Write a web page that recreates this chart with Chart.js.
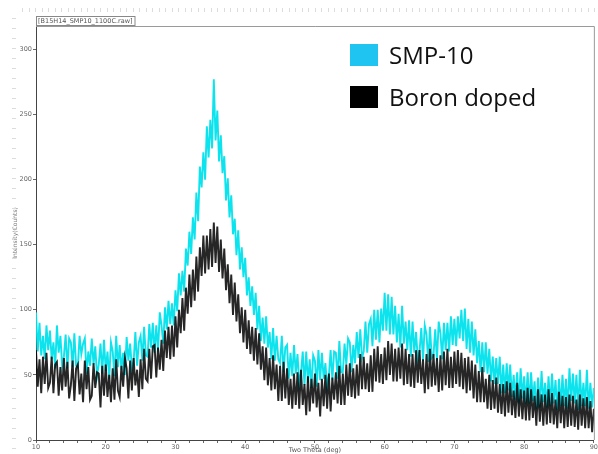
<!DOCTYPE html>
<html>
<head>
<meta charset="utf-8">
<script src="https://cdn.jsdelivr.net/npm/chart.js@4.4.0/dist/chart.umd.min.js"></script>
<style>
  html, body { margin: 0; padding: 0; background: #fff; }
  #xrd { display: block; }
</style>
</head>
<body>
<canvas id="xrd" width="598" height="454"></canvas>
<script>
// scan grid: 10..90 deg two theta, 0.25 deg step
var thetaStart = 10;
var thetaStep = 0.25;

// SMP-10 counts (4 points per degree)
var smp10 = [
    98,68,90,65, 80,62,88,69, 84,62,75,55, 88,67,80,57, 64,81,55,78,
    75,56,82,57, 56,80,66,74, 78,51,68,57, 78,58,72,49, 58,74,51,77,
    53,68,47,75, 68,49,80,56, 73,54,67,50, 79,61,74,55, 60,83,57,75,
    80,61,87,65, 64,89,71,90, 67,88,68,98, 88,74,102,85, 107,89,105,88,
    115,99,128,111, 130,114,147,134, 160,143,171,154, 190,168,210,194, 221,200,241,217,
    246,224,277,230, 253,214,234,205, 218,184,201,171, 188,158,170,142, 161,131,148,125,
    140,111,125,103, 118,96,113,85, 103,76,94,74, 95,71,83,62, 86,61,80,62,
    59,80,52,71, 73,47,67,49, 73,51,66,43, 51,68,42,68, 44,62,40,65,
    61,41,69,46, 67,47,59,41, 49,69,46,68, 67,47,76,52, 52,74,58,78,
    75,52,73,59, 83,63,85,63, 68,91,67,89, 93,72,100,77, 100,75,101,84,
    113,84,112,81, 110,81,103,75, 97,71,103,74, 91,69,92,64, 91,67,83,62,
    68,86,61,88, 81,60,87,63, 65,85,61,91, 82,62,90,69, 90,68,95,73,
    93,72,95,78, 100,76,101,70, 93,67,91,65, 85,59,76,52, 75,52,75,51,
    70,45,64,43, 63,43,64,36, 58,36,59,38, 58,33,50,31, 52,28,55,32,
    49,28,52,28, 52,30,45,24, 48,25,53,29, 44,25,49,26, 51,28,46,23,
    47,26,50,26, 47,24,55,30, 51,28,50,23, 54,26,44,26, 54,24,44,25,
    40
];

// Boron doped counts
var boron = [
    69,41,62,36, 64,43,67,40, 44,64,36,58, 60,34,56,38, 63,41,60,32,
    42,61,30,55, 58,35,51,29, 61,39,56,31, 34,59,40,52, 51,25,57,34,
    58,33,50,29, 55,31,62,38, 33,57,41,63, 55,32,61,38, 63,42,54,33,
    62,39,70,47, 45,70,47,72, 73,48,71,54, 77,53,84,63, 87,62,88,64,
    95,71,100,82, 109,84,117,97, 127,102,131,107, 141,114,148,126, 157,128,157,131,
    162,133,167,136, 164,129,154,124, 147,115,135,105, 127,96,121,91, 112,82,102,75,
    100,70,92,66, 87,61,86,58, 82,54,72,46, 71,42,63,38, 65,39,58,30,
    57,30,60,32, 55,27,47,24, 51,27,52,24, 54,27,43,19, 49,22,47,28,
    51,25,44,18, 47,26,50,24, 51,22,48,31, 52,28,57,27, 51,27,58,34,
    59,33,55,32, 58,34,66,39, 64,39,59,37, 65,37,70,45, 72,44,66,43,
    71,46,76,50, 74,45,70,45, 71,47,74,42, 70,43,66,41, 66,40,69,44,
    69,43,62,36, 66,39,70,41, 66,42,63,37, 65,38,68,42, 70,40,64,40,
    68,43,69,41, 67,39,63,36, 64,38,61,32, 58,29,53,29, 56,29,47,24,
    50,23,46,24, 48,21,43,20, 43,18,45,21, 44,19,38,17, 44,18,39,16,
    38,15,40,15, 39,17,34,11, 39,14,35,11, 35,12,39,13, 36,12,31,9,
    37,13,34,9, 33,10,35,11, 34,10,31,8, 35,11,32,9, 33,9,30,6,
    24
];

var seriesNames = ['SMP-10', 'Boron doped'];
var yTicks = [0, 50, 100, 150, 200, 250, 300];
var xTickLabels = [10, 20, 30, 40, 50, 60, 70, 80, 90];
var fileName = '[B15H14_SMP10_1100C.raw]';

function toPoints(arr) {
    return arr.map(function (v, i) {
        return { x: thetaStart + i * thetaStep, y: v };
    });
}

// draws the frame, faint page rulers, file tag and the big legend
var decor = {
    id: 'decor',
    beforeDatasetsDraw: function (chart) {
        var c = chart.ctx, a = chart.chartArea;
        c.save();
        c.strokeStyle = '#9a9a9a';
        c.lineWidth = 1;
        c.beginPath();
        c.moveTo(a.left, a.top + 0.5);
        c.lineTo(a.right + 0.5, a.top + 0.5);
        c.lineTo(a.right + 0.5, a.bottom);
        c.stroke();

        // faint rulers along the top and left page edges
        c.strokeStyle = '#dcdcdc';
        c.beginPath();
        for (var x = 22; x < chart.width; x += 6.5) {
            c.moveTo(Math.round(x) + 0.5, 8);
            c.lineTo(Math.round(x) + 0.5, 12);
        }
        for (var y = 18; y < chart.height - 4; y += 10) {
            c.moveTo(12, Math.round(y) + 0.5);
            c.lineTo(16, Math.round(y) + 0.5);
        }
        c.stroke();
        c.restore();
    },
    afterDraw: function (chart) {
        var c = chart.ctx, a = chart.chartArea;
        c.save();
        // file name tag
        c.font = '6.5px "DejaVu Sans"';
        var w = c.measureText(fileName).width;
        c.strokeStyle = '#888';
        c.fillStyle = '#555';
        c.strokeRect(a.left + 0.5, a.top - 9.5, w + 4, 9);
        c.textBaseline = 'middle';
        c.fillText(fileName, a.left + 2, a.top - 4.5);

        // legend
        c.font = '24px "Open Sans"';
        c.textBaseline = 'alphabetic';
        chart.data.datasets.forEach(function (ds, i) {
            var y = 44 + i * 42;
            c.fillStyle = ds.backgroundColor;
            c.fillRect(350, y, 28, 22);
            c.fillStyle = '#111';
            c.fillText(ds.label, 389, y + 20);
        });
        c.restore();
    }
};

var ctx = document.getElementById('xrd').getContext('2d');

var xrdChart = new Chart(ctx, {
    type: 'line',
    data: {
        datasets: [{
            label: seriesNames[0],
            data: toPoints(smp10),
            borderColor: 'rgba(0, 226, 236, 0.95)',
            backgroundColor: 'rgb(32, 196, 240)',
            borderWidth: 1.9,
            pointRadius: 0,
            tension: 0,
            order: 1
        }, {
            label: seriesNames[1],
            data: toPoints(boron),
            borderColor: 'rgba(0, 0, 0, 0.85)',
            backgroundColor: '#000',
            borderWidth: 1.9,
            pointRadius: 0,
            tension: 0,
            order: 0
        }]
    },
    options: {
        responsive: false,
        animation: false,
        layout: { padding: { left: 0, right: 3, top: 26, bottom: 0 } },
        plugins: {
            legend: { display: false },
            tooltip: { enabled: false }
        },
        scales: {
            x: {
                type: 'linear',
                min: 10,
                max: 90,
                afterFit: function (s) { s.height = 14; },
                afterBuildTicks: function (s) {
                    var t = [];
                    for (var v = 10; v <= 90; v += 2) t.push({ value: v });
                    s.ticks = t;
                },
                ticks: {
                    autoSkip: false,
                    maxRotation: 0,
                    padding: 0,
                    color: '#666',
                    font: { size: 6.5, family: 'DejaVu Sans' },
                    callback: function (v) {
                        return xTickLabels.indexOf(v) >= 0 ? String(v) : '';
                    }
                },
                grid: { drawOnChartArea: false, tickLength: 3, color: '#666' },
                border: { color: '#444' },
                title: {
                    display: true,
                    text: 'Two Theta (deg)',
                    color: '#555',
                    font: { size: 6.5, family: 'DejaVu Sans' },
                    padding: 0
                }
            },
            y: {
                min: 0,
                max: 318,
                afterFit: function (s) { s.width = 36; },
                afterBuildTicks: function (s) {
                    s.ticks = yTicks.map(function (v) { return { value: v }; });
                },
                ticks: {
                    padding: 1,
                    color: '#666',
                    font: { size: 6.5, family: 'DejaVu Sans' }
                },
                grid: { drawOnChartArea: false, tickLength: 3, color: '#666' },
                border: { color: '#444' },
                title: {
                    display: true,
                    text: 'Intensity(Counts)',
                    color: '#777',
                    font: { size: 6, family: 'DejaVu Sans' },
                    padding: { top: 12, bottom: 0 }
                }
            }
        }
    },
    plugins: [decor]
});
</script>
</body>
</html>
